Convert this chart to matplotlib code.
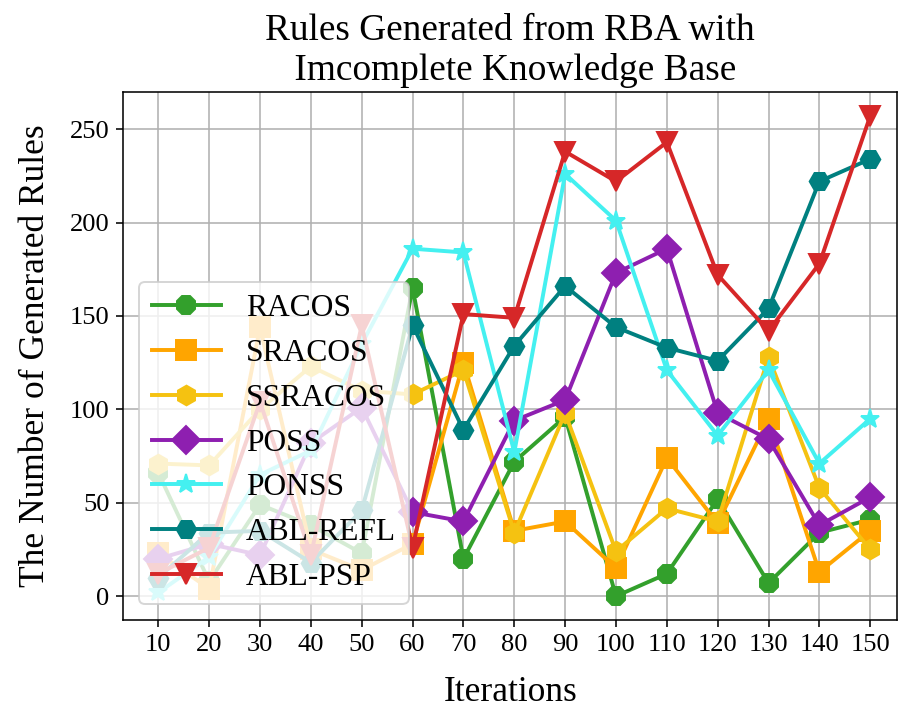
import matplotlib
matplotlib.use("Agg")
import matplotlib.pyplot as plt

plt.rcParams["font.family"] = ["Liberation Serif", "DejaVu Serif"]

iterations = [10, 20, 30, 40, 50, 60, 70, 80, 90, 100, 110, 120, 130, 140, 150]

racos = [66, 8, 49, 38, 23, 165, 20, 72, 96, 0, 12, 52, 7, 34, 41]
sracos = [23, 4, 144, 25, 14, 28, 125, 35, 40, 15, 74, 39, 95, 13, 35]
ssracos = [71, 70, 100, 123, 110, 108, 121, 34, 98, 24, 47, 40, 128, 58, 25]
poss = [20, 28, 22, 82, 101, 45, 40, 94, 105, 173, 186, 98, 84, 38, 53]
ponss = [2, 21, 65, 78, 135, 186, 184, 77, 226, 201, 121, 86, 121, 71, 95]
abl_refl = [10, 34, 35, 18, 46, 145, 89, 134, 166, 144, 133, 126, 154, 222, 234]
abl_psp = [12, 26, 104, 22, 145, 26, 151, 149, 238, 222, 243, 172, 142, 178, 257]

names = ["RACOS", "SRACOS", "SSRACOS", "POSS", "PONSS", "ABL-REFL", "ABL-PSP"]
series = [racos, sracos, ssracos, poss, ponss, abl_refl, abl_psp]
markers = ["8", "s", "h", "D", "*", "H", "v"]
colors = ["#33a02c", "#ffa500", "#f5c211", "#8e1fb0", "#44f0f0", "#008080", "#d62728"]

fig, ax = plt.subplots(figsize=(6.4, 5), dpi=141.6)
fig.subplots_adjust(left=0.136, right=0.990, top=0.870, bottom=0.124)

for name, ys, m, c in zip(names, series, markers, colors):
    ax.plot(iterations, ys, marker=m, color=c, label=name,
            linewidth=2, markersize=10)

ax.set_xticks(iterations)
ax.set_xlim(3.1, 155.3)
ax.grid(True)
ax.tick_params(labelsize=13.5)
ax.set_xlabel("Iterations", fontsize=18, labelpad=10)
ax.set_ylabel("The Number of Generated Rules", fontsize=18, labelpad=9)
ax.set_title("Rules Generated from RBA with\n Imcomplete Knowledge Base", fontsize=19)
ax.legend(loc="lower left", fontsize=16, handlelength=2.2)

fig.savefig("out.png", dpi=141.6)
